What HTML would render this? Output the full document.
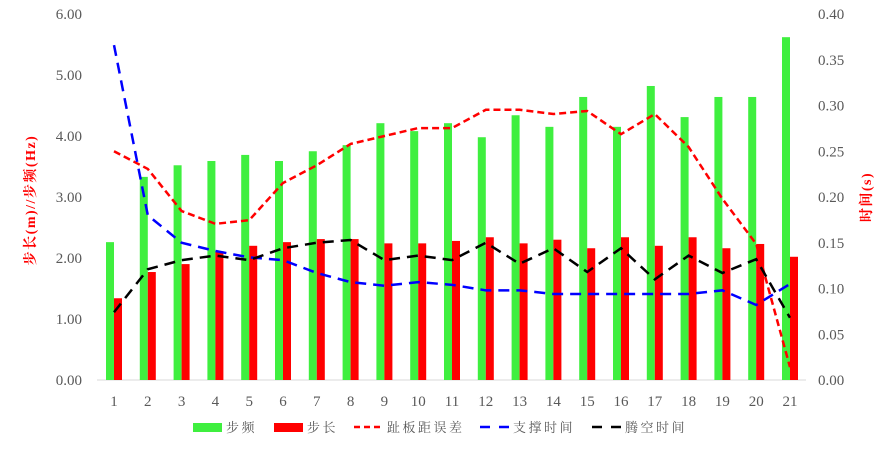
<!DOCTYPE html>
<html><head><meta charset="utf-8"><style>
body{margin:0;background:#fff;}
svg text{font-family:"Liberation Serif","Noto Serif CJK SC",serif;}
</style></head><body>
<svg id="c" width="893" height="447" xmlns="http://www.w3.org/2000/svg"></svg>
<script>
const categories=["1","2","3","4","5","6","7","8","9","10","11","12","13","14","15","16","17","18","19","20","21"];
const stepFreq=[2.26,3.33,3.52,3.59,3.69,3.59,3.75,3.85,4.21,4.08,4.21,3.98,4.34,4.15,4.64,4.15,4.82,4.31,4.64,4.64,5.62];
const stepLen=[1.34,1.77,1.90,2.11,2.20,2.26,2.31,2.31,2.24,2.24,2.28,2.34,2.24,2.30,2.16,2.34,2.20,2.34,2.16,2.23,2.02];
const toeErr=[3.75,3.46,2.77,2.56,2.62,3.23,3.52,3.87,4.00,4.13,4.13,4.43,4.43,4.36,4.41,4.03,4.36,3.82,2.97,2.23,0.21];
const supportT=[0.366,0.18,0.15,0.141,0.134,0.131,0.117,0.107,0.103,0.107,0.104,0.098,0.098,0.094,0.094,0.094,0.094,0.094,0.098,0.082,0.105];
const flightT=[0.074,0.121,0.131,0.136,0.131,0.144,0.150,0.153,0.131,0.136,0.131,0.150,0.127,0.144,0.118,0.144,0.110,0.136,0.117,0.132,0.068];
const leftTicks=["0.00","1.00","2.00","3.00","4.00","5.00","6.00"];
const rightTicks=["0.00","0.05","0.10","0.15","0.20","0.25","0.30","0.35","0.40"];
const NS="http://www.w3.org/2000/svg",svg=document.getElementById('c');
const y0=380,y1=14;
const xs=i=>114+i*33.8;
const yL=v=>y0-(y0-y1)*v/6;
const yR=v=>y0-(y0-y1)*v/0.4;
function mk(t,a,txt){const e=document.createElementNS(NS,t);for(const k in a)e.setAttribute(k,a[k]);if(txt!=null)e.textContent=txt;svg.appendChild(e);return e;}
leftTicks.forEach((t,i)=>{const e=mk('text',{x:82,y:yL(+t)+5,'text-anchor':'end','font-size':15,fill:'#595959'},t);

});
rightTicks.forEach((t,i)=>{const e=mk('text',{x:818,y:yR(+t)+5,'font-size':15,fill:'#595959'},t);

});
const ax=mk('line',{x1:97,x2:806,y1:y0,y2:y0,stroke:'#d9d9d9'});


categories.forEach((c,i)=>{const e=mk('text',{x:xs(i),y:406,'text-anchor':'middle','font-size':15,fill:'#595959'},c);


const g=mk('rect',{x:xs(i)-8,y:yL(stepFreq[i]),width:8,height:y0-yL(stepFreq[i]),fill:'#3fef3f'});


const r=mk('rect',{x:xs(i),y:yL(stepLen[i]),width:8,height:y0-yL(stepLen[i]),fill:'#ff0000'});

});
function line(vals,f,col,name,dash){const p=mk('polyline',{points:vals.map((v,i)=>xs(i)+','+f(v)).join(' '),fill:'none',stroke:col,'stroke-width':2.5,'stroke-dasharray':dash});

}
line(toeErr,yL,'#ff0000','line-toe-error','7,4');
line(supportT,yR,'#0000ff','line-support-time','11,7');
line(flightT,yR,'#000000','line-flight-time','11,7');
const lt=mk('text',{x:0,y:0,'font-size':14,fill:'#ff0000','text-anchor':'middle','letter-spacing':'1.5','font-weight':'bold',transform:'translate(35,200) rotate(-90)'},'步长(m)//步频(Hz)');


const rt=mk('text',{x:0,y:0,'font-size':14,fill:'#ff0000','text-anchor':'middle','letter-spacing':'1.5','font-weight':'bold',transform:'translate(871,197) rotate(-90)'},'时间(s)');


const leg=[["步频",'rect','#3fef3f',193,'0'],["步长",'rect','#ff0000',274,'0'],["趾板距误差",'line','#ff0000',354,'6,4'],["支撑时间",'line','#0000ff',480,'10,9'],["腾空时间",'line','#000000',592,'10,9']];
leg.forEach(l=>{let s;if(l[1]=='rect')s=mk('rect',{x:l[3],y:423,width:29,height:9,fill:l[2]});
else s=mk('line',{x1:l[3],x2:l[3]+30,y1:427,y2:427,stroke:l[2],'stroke-width':2.5,'stroke-dasharray':l[4]});


const t=mk('text',{x:l[3]+33,y:432,'font-size':13,'letter-spacing':'2.5',fill:'#595959'},l[0]);

});
</script>
</body></html>
